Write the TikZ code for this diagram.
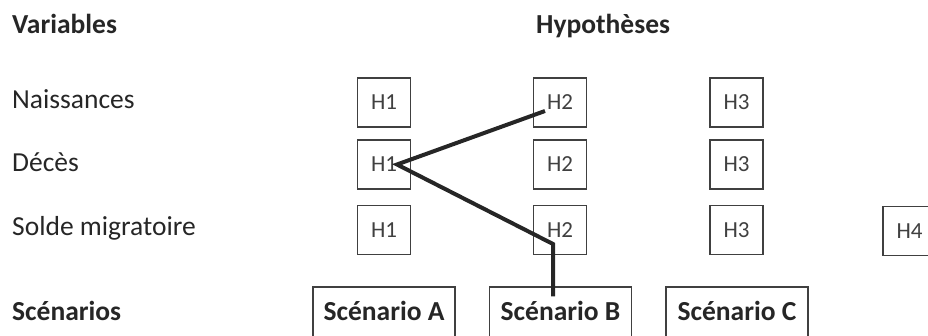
\documentclass[tikz,border=0pt]{standalone}
\usepackage{fontspec}
\setmainfont{Carlito}

\begin{document}
\begin{tikzpicture}[x=1pt,y=-1pt,
  label/.style={anchor=base west,inner sep=0,text=black!85,font=\fontsize{27.5}{30}\selectfont},
  head/.style={label,font=\fontsize{27.5}{30}\selectfont\bfseries},
  hyp/.style={draw=black!75,line width=1.4pt,minimum width=53pt,minimum height=49pt,inner sep=0,
    text=black!75,font=\fontsize{23}{26}\selectfont},
  scen/.style={draw=black!75,line width=1.4pt,minimum width=142pt,inner xsep=0,inner ysep=0,
    text height=33pt,text depth=30pt,anchor=base,text=black!85,font=\fontsize{27.5}{30}\selectfont\bfseries},
  path/.style={line width=4pt,draw=black!85}]
          \useasboundingbox (0,0) rectangle (928,336);
          % Headings
          \node[head] (var) at (12,34) {Variables};
          \node[head] (hyps) at (536,34) {Hypothèses};
          % Variables
          \node[label] (nais) at (12,109) {Naissances};
          \node[label] (dec) at (12,172) {Décès};
          \node[label] (solde) at (12,236) {Solde migratoire};
          \node[head] (scen) at (12,320) {Scénarios};
          % Hypotheses
          \node[hyp] (h1n) at (384,102.5) {H1};
          \node[hyp] (h2n) at (560,102.5) {H2};
          \node[hyp] (h3n) at (736.5,102.5) {H3};
          \node[hyp] (h1d) at (384,164.5) {H1};
          \node[hyp] (h2d) at (560,164.5) {H2};
          \node[hyp] (h3d) at (736.5,164.5) {H3};
          \node[hyp] (h1s) at (384,230) {H1};
          \node[hyp] (h2s) at (560,230) {H2};
          \node[hyp] (h3s) at (736.5,230) {H3};
          \node[hyp] (h4s) at (909.5,231) {H4};
          % Scenarios
          \node[scen] (scA) at (384,320) {Scénario A};
          \node[scen] (scB) at (560.5,320) {Scénario B};
          \node[scen] (scC) at (737,320) {Scénario C};
          % Chosen path
          \coordinate (p2n) at ([xshift=-15pt,yshift=-8.5pt]h2n.center);
          \coordinate (p1d) at ([xshift=13pt]h1d.center);
          \coordinate (p2s) at ([xshift=-7pt,yshift=-14pt]h2s.center);
          \coordinate (pB) at ([yshift=-10pt]scB.north);
          \draw[path] (p2n) -- (p1d) -- (p2s) -- (p2s |- pB);
        \end{tikzpicture}
\end{document}
